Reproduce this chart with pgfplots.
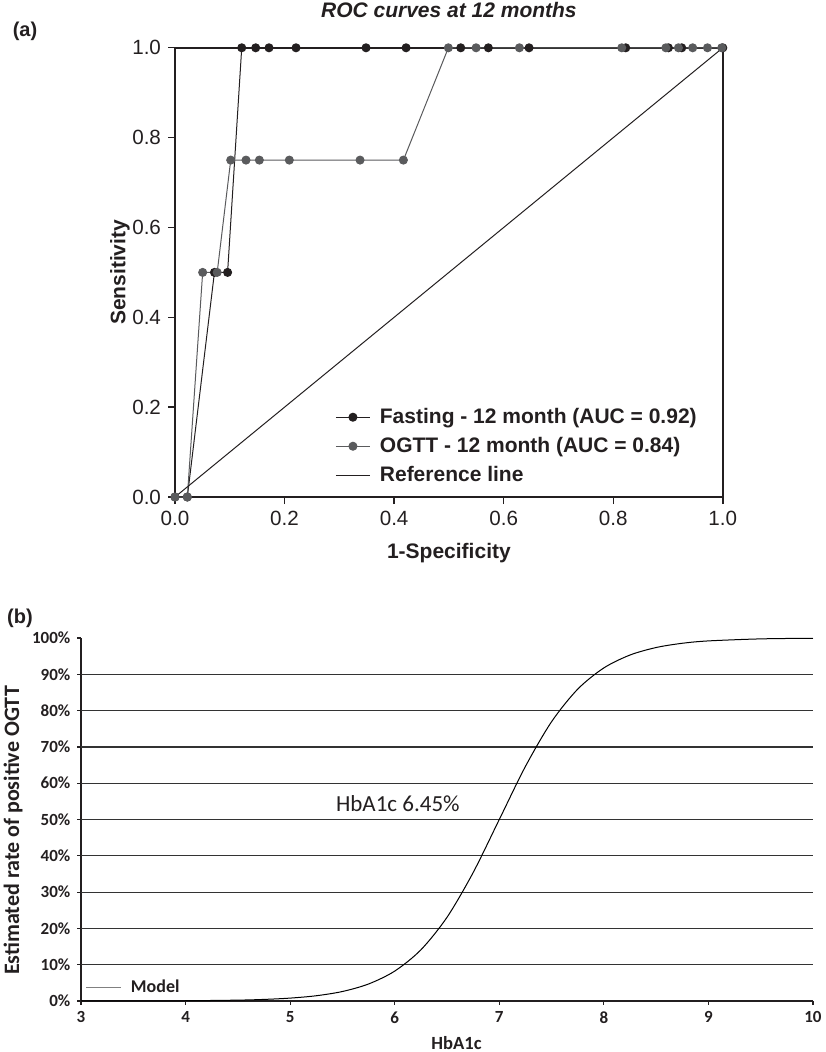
\documentclass[border=0pt]{standalone}
\usepackage{fontspec}
\setmainfont{Liberation Sans}
\newfontfamily\calibri{Carlito}
\usepackage{pgfplots}
\pgfplotsset{compat=1.18}

\definecolor{fastc}{HTML}{231F20}
\definecolor{ogttc}{HTML}{5A5B5D}

\begin{document}
\begin{tikzpicture}
\path[use as bounding box] (0,0) rectangle (412.5pt,-526pt);

% ---- panel (a): ROC curves
\node[font=\bfseries\fontsize{10}{12}\selectfont, text=fastc] at (12.5pt,-15.8pt) {(a)};
\begin{axis}[
  at={(87.5pt,-248.5pt)}, anchor=south west,
  scale only axis, width=273.9pt, height=224.6pt,
  xmin=0, xmax=1, ymin=0, ymax=1,
  xtick={0,0.2,0.4,0.6,0.8,1}, ytick={0,0.2,0.4,0.6,0.8,1},
  tick pos=left, tick align=outside, major tick length=3.5pt,
  tick style={line width=0.7pt, color=fastc},
  axis line style={line width=0.8pt, color=fastc},
  /pgf/number format/.cd, fixed, fixed zerofill, precision=1, assume math mode=true, /pgfplots/.cd,
  ticklabel style={font=\fontsize{10.3}{12}\selectfont, text=fastc},
  title={ROC curves at 12 months},
  title style={font=\bfseries\itshape\fontsize{10.5}{12}\selectfont, text=fastc,
    at={(axis description cs:0.5,1)}, anchor=center, yshift=13pt},
  xlabel={1-Specificity},
  xlabel style={font=\bfseries\fontsize{10.5}{12}\selectfont, text=fastc,
    at={(axis description cs:0.5,0)}, anchor=center, yshift=-28pt},
  ylabel={Sensitivity},
  ylabel style={font=\bfseries\fontsize{10.5}{12}\selectfont, text=fastc,
    at={(axis description cs:0,0.5)}, anchor=center, yshift=27.5pt},
  clip=false,
  legend cell align=left,
  legend style={draw=none, fill=none, inner sep=0pt, row sep=3pt,
    font=\bfseries\fontsize{10.5}{12}\selectfont, text=fastc,
    nodes={inner sep=1.2pt}, /tikz/column 1/.style={column sep=3.5pt},
    at={(axis description cs:0.292,0.113)}, anchor=west},
]
\addplot[color=fastc, line width=0.5pt, mark=*, mark size=2pt,
  mark options={fill=fastc, draw=fastc}] coordinates {
  (0,0) (0.0225,0) (0.072,0.5) (0.096,0.5) (0.1218,1) (0.1473,1) (0.1716,1)
  (0.2209,1) (0.3487,1) (0.4218,1) (0.5216,1) (0.572,1) (0.6463,1)
  (0.8228,1) (0.9007,1) (0.925,1) (1,1)};
\addlegendentry{Fasting - 12 month (AUC = 0.92)}
\addplot[color=ogttc, line width=0.5pt, mark=*, mark size=2pt,
  mark options={fill=ogttc, draw=ogttc}] coordinates {
  (0,0) (0.0225,0) (0.0505,0.5) (0.077,0.5) (0.1017,0.75) (0.1296,0.75)
  (0.154,0.75) (0.2087,0.75) (0.3378,0.75) (0.4169,0.75) (0.499,1)
  (0.5496,1) (0.6287,1) (0.8155,1) (0.896,1) (0.919,1) (0.945,1)
  (0.972,1) (0.998,1)};
\addlegendentry{OGTT - 12 month (AUC = 0.84)}
\addplot[color=fastc, line width=0.5pt] coordinates {(0,0) (1,1)};
\addlegendentry{Reference line}
\end{axis}

% ---- panel (b): logistic model
\node[font=\bfseries\fontsize{10}{12}\selectfont, text=fastc] at (10pt,-309pt) {(b)};
\begin{axis}[
  at={(40.5pt,-500.5pt)}, anchor=south west,
  scale only axis, width=366pt, height=181.5pt,
  xmin=3, xmax=10, ymin=0, ymax=100,
  axis x line=bottom, axis y line=left,
  hide obscured x ticks=false, hide obscured y ticks=false,
  axis line style={-, line width=0.7pt, color=fastc},
  xtick={3,4,5,6,7,8,9,10},
  ytick={0,10,20,30,40,50,60,70,80,90,100},
  yticklabels={0\%,10\%,20\%,30\%,40\%,50\%,60\%,70\%,80\%,90\%,100\%},
  extra y ticks={10,20,30,40,50,60,70,80,90},
  extra y tick labels={},
  extra y tick style={ymajorgrids=true, major tick length=0pt},
  grid style={line width=0.6pt, color=black!80},
  tick align=outside, major tick length=1.8pt,
  tick style={line width=0.6pt, color=fastc},
  /pgf/number format/assume math mode=true,
  ticklabel style={font=\calibri\bfseries\fontsize{8.5}{10}\selectfont, text=fastc},
  xlabel={HbA1c},
  xlabel style={font=\calibri\bfseries\fontsize{9.3}{11}\selectfont, text=fastc,
    at={(axis description cs:0.513,0)}, anchor=center, yshift=-21pt},
  ylabel={Estimated rate of positive OGTT},
  ylabel style={font=\calibri\bfseries\fontsize{11}{13}\selectfont, text=fastc,
    at={(axis description cs:0,0.47)}, anchor=center, yshift=34pt},
  clip=false,
  legend style={draw=none, fill=none, inner sep=0pt,
    font=\calibri\bfseries\fontsize{9}{11}\selectfont, text=fastc,
    nodes={inner sep=1pt}, /tikz/column 1/.style={column sep=3.5pt},
    at={(axis description cs:0.006,0.037)}, anchor=west},
]
\addplot[black, line width=0.5pt, smooth,
  legend image code/.code={\draw[gray, line width=0.6pt] (0pt,0pt) -- (17.5pt,0pt);}]
  coordinates {
  (3,0.0065) (3.5,0.0217) (4,0.0724) (4.5,0.241) (4.75,0.44) (5,0.80)
  (5.25,1.45) (5.5,2.62) (5.75,4.69) (6,8.24) (6.25,14.09) (6.5,23.06)
  (6.75,35.38) (7,50.0) (7.25,64.62) (7.5,76.94) (7.75,85.91) (8,91.76)
  (8.25,95.31) (8.5,97.38) (8.75,98.55) (9,99.20) (9.5,99.76) (10,99.93)};
\addlegendentry{Model}
\node[font=\calibri\fontsize{11.5}{13}\selectfont, text=fastc] at (axis cs:6.03,54.3) {HbA1c 6.45\%};
\end{axis}
\end{tikzpicture}
\end{document}
